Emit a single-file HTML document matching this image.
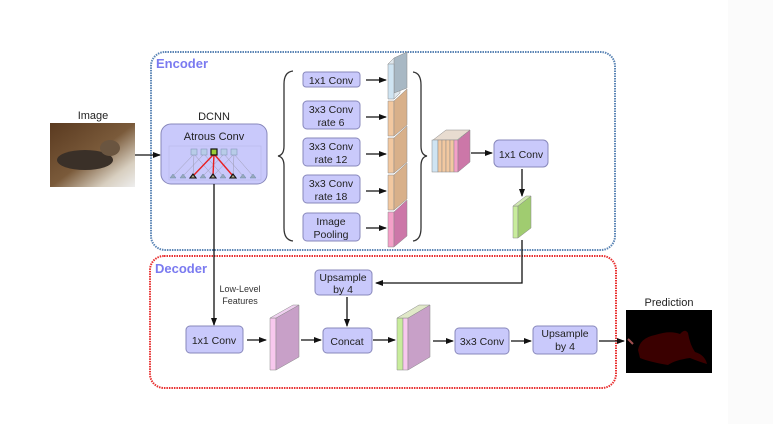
<!DOCTYPE html>
<html><head><meta charset="utf-8"><style>
html,body{margin:0;padding:0;background:#fff;}
svg{display:block;font-family:"Liberation Sans",sans-serif;}
</style></head><body>
<svg width="773" height="424" viewBox="0 0 773 424" xmlns="http://www.w3.org/2000/svg">
<defs>
<marker id="a" markerWidth="8" markerHeight="6" refX="7" refY="3" orient="auto" markerUnits="userSpaceOnUse"><path d="M0,0 L8,3 L0,6 z" fill="#111"/></marker>
<linearGradient id="cat" x1="0" y1="0" x2="1" y2="1"><stop offset="0" stop-color="#5a3a20"/><stop offset="0.5" stop-color="#7a5a3a"/><stop offset="0.8" stop-color="#d8cfc0"/><stop offset="1" stop-color="#eee"/></linearGradient>
</defs>
<rect x="728" y="0" width="45" height="424" fill="#fbfbfb"/>
<!-- Encoder / decoder frames -->
<rect x="151" y="52" width="464" height="198" rx="14" fill="none" stroke="#5b85b5" stroke-width="2" stroke-dasharray="1.5 1"/>
<text x="156" y="68" font-size="13" font-weight="bold" fill="#7a7af0">Encoder</text>
<rect x="150" y="256" width="466" height="132" rx="14" fill="none" stroke="#e83030" stroke-width="2" stroke-dasharray="1.5 1"/>
<text x="155" y="273" font-size="13" font-weight="bold" fill="#7a7af0">Decoder</text>
<!-- Image -->
<text x="93" y="119" font-size="11" text-anchor="middle" fill="#222">Image</text>
<rect x="50" y="123" width="85" height="64" fill="url(#cat)"/>
<ellipse cx="85" cy="160" rx="28" ry="10" fill="#3a3028"/>
<ellipse cx="110" cy="148" rx="10" ry="8" fill="#6a5540"/>
<line x1="135" y1="155" x2="160" y2="155" stroke="#111" stroke-width="1.3" marker-end="url(#a)"/>
<!-- DCNN -->
<text x="214" y="120" font-size="11" text-anchor="middle" fill="#222">DCNN</text>
<rect x="161" y="124" width="106" height="60" rx="10" fill="#c9c9fb" stroke="#8888bb"/>
<text x="214" y="140" font-size="11" text-anchor="middle" fill="#222">Atrous Conv</text>
<rect x="169" y="146" width="92" height="34" fill="none" stroke="#b8b8e8" stroke-width="0.6"/>
<g stroke="#9a9ab0" stroke-width="0.5">
<line x1="194" y1="154" x2="173" y2="176"/><line x1="194" y1="154" x2="193" y2="176"/><line x1="194" y1="154" x2="213" y2="176"/>
<line x1="204" y1="154" x2="183" y2="176"/><line x1="204" y1="154" x2="223" y2="176"/>
<line x1="224" y1="154" x2="203" y2="176"/><line x1="224" y1="154" x2="243" y2="176"/>
<line x1="234" y1="154" x2="213" y2="176"/><line x1="234" y1="154" x2="253" y2="176"/><line x1="234" y1="154" x2="233" y2="176"/>
</g>
<g stroke="#e82020" stroke-width="1.4"><line x1="214" y1="154" x2="193" y2="176"/><line x1="214" y1="154" x2="213" y2="176"/><line x1="214" y1="154" x2="233" y2="176"/></g>
<g fill="#b8cce8" stroke="#7a90b0" stroke-width="0.5"><rect x="191" y="149" width="6" height="6"/><rect x="201" y="149" width="6" height="6"/><rect x="221" y="149" width="6" height="6"/><rect x="231" y="149" width="6" height="6"/></g>
<rect x="211" y="149" width="6" height="6" fill="#9c3" stroke="#111" stroke-width="1.2"/>
<g fill="#9ab" stroke="#6a8aaa" stroke-width="0.5">
<path d="M173,174 l-3,4 h6z"/><path d="M183,174 l-3,4 h6z"/><path d="M203,174 l-3,4 h6z"/><path d="M223,174 l-3,4 h6z"/><path d="M243,174 l-3,4 h6z"/><path d="M253,174 l-3,4 h6z"/></g>
<g fill="#aa8" stroke="#111" stroke-width="1.1"><path d="M193,174 l-3,4 h6z"/><path d="M213,174 l-3,4 h6z"/><path d="M233,174 l-3,4 h6z"/></g>
<!-- Left brace -->
<path d="M293,71 Q284,72 284,84 L284,146 Q284,155 278,156 Q284,157 284,166 L284,228 Q284,240 293,241" fill="none" stroke="#333" stroke-width="1.3"/>
<!-- ASPP boxes -->
<g fill="#c9c9fb" stroke="#8888bb">
<rect x="303" y="72" width="57" height="15" rx="3"/>
<rect x="303" y="101" width="57" height="28" rx="4"/>
<rect x="303" y="138" width="57" height="28" rx="4"/>
<rect x="303" y="175" width="57" height="28" rx="4"/>
<rect x="303" y="213" width="57" height="28" rx="4"/>
</g>
<g font-size="10.5" text-anchor="middle" fill="#222">
<text x="331" y="84">1x1 Conv</text>
<text x="331" y="113">3x3 Conv</text><text x="331" y="126">rate 6</text>
<text x="331" y="150">3x3 Conv</text><text x="331" y="163">rate 12</text>
<text x="331" y="187">3x3 Conv</text><text x="331" y="200">rate 18</text>
<text x="331" y="225">Image</text><text x="331" y="238">Pooling</text>
</g>
<g stroke="#111" stroke-width="1.3" marker-end="url(#a)">
<line x1="366" y1="80" x2="386" y2="80"/><line x1="366" y1="117" x2="386" y2="117"/><line x1="366" y1="154" x2="386" y2="154"/><line x1="366" y1="191" x2="386" y2="191"/><line x1="366" y1="228" x2="386" y2="228"/>
</g>
<!-- slabs -->
<g stroke="#888" stroke-width="0.5">
<path d="M388,64 l6,-6 h6 v35 l-6,6z" fill="#e0e8ee"/><path d="M394,58 l13,-6 v36 l-13,5z" fill="#a8b8c4"/><path d="M388,64 h6 v35 h-6z" fill="#cfe4f2"/>
<path d="M388,101 h6 v35 h-6z" fill="#f2c8a0"/><path d="M394,101 l13,-12 v36 l-13,11z" fill="#d8b08a"/>
<path d="M388,138 h6 v35 h-6z" fill="#f2c8a0"/><path d="M394,138 l13,-12 v36 l-13,11z" fill="#d8b08a"/>
<path d="M388,175 h6 v35 h-6z" fill="#f2c8a0"/><path d="M394,175 l13,-12 v36 l-13,11z" fill="#d8b08a"/>
<path d="M388,212 h6 v35 h-6z" fill="#f4a0c8"/><path d="M394,212 l13,-12 v36 l-13,11z" fill="#cc77a8"/>
</g>
<!-- right brace -->
<path d="M413,72 Q421,73 421,85 L421,146 Q421,155 427,156 Q421,157 421,166 L421,228 Q421,240 413,241" fill="none" stroke="#333" stroke-width="1.3"/>
<!-- concat stack -->
<g stroke="#888" stroke-width="0.5">
<path d="M433,140 l13,-10 h24 l-13,10z" fill="#e8dcd0"/>
<rect x="432" y="140" width="6" height="32" fill="#cfe4f2"/>
<rect x="438" y="140" width="4" height="32" fill="#f2c8a0"/>
<rect x="442" y="140" width="4" height="32" fill="#f2c8a0"/>
<rect x="446" y="140" width="4" height="32" fill="#f2c8a0"/>
<rect x="450" y="140" width="4" height="32" fill="#f2c8a0"/>
<rect x="454" y="140" width="4" height="32" fill="#f4a0c8"/>
<path d="M458,140 l12,-10 v32 l-12,10z" fill="#cc77a8"/>
</g>
<line x1="471" y1="153" x2="492" y2="153" stroke="#111" stroke-width="1.3" marker-end="url(#a)"/>
<rect x="494" y="140" width="54" height="27" rx="5" fill="#c9c9fb" stroke="#8888bb"/>
<text x="521" y="158" font-size="10.5" text-anchor="middle" fill="#222">1x1 Conv</text>
<line x1="522" y1="169" x2="522" y2="196" stroke="#111" stroke-width="1.3" marker-end="url(#a)"/>
<g stroke="#888" stroke-width="0.5">
<path d="M513,206 h5 v32 h-5z" fill="#c8ec9c"/><path d="M518,206 l13,-10 v32 l-13,10z" fill="#a0cc70"/><path d="M513,206 l13,-10 h5 l-13,10z" fill="#d0e8b0"/>
</g>
<!-- upsample path -->
<polyline points="522,240 522,283 376,283" fill="none" stroke="#111" stroke-width="1.3" marker-end="url(#a)"/>
<rect x="315" y="270" width="57" height="25" rx="4" fill="#c9c9fb" stroke="#8888bb"/>
<text x="343" y="281" font-size="10.5" text-anchor="middle" fill="#222">Upsample</text>
<text x="343" y="293" font-size="10.5" text-anchor="middle" fill="#222">by 4</text>
<line x1="347" y1="297" x2="347" y2="326" stroke="#111" stroke-width="1.3" marker-end="url(#a)"/>
<!-- low level -->
<line x1="214" y1="184" x2="214" y2="325" stroke="#111" stroke-width="1.3" marker-end="url(#a)"/>
<text x="240" y="292" font-size="9" text-anchor="middle" fill="#333">Low-Level</text>
<text x="240" y="304" font-size="9" text-anchor="middle" fill="#333">Features</text>
<!-- decoder row -->
<g fill="#c9c9fb" stroke="#8888bb">
<rect x="186" y="326" width="57" height="27" rx="4"/>
<rect x="323" y="328" width="49" height="25" rx="4"/>
<rect x="455" y="328" width="54" height="26" rx="4"/>
<rect x="533" y="326" width="64" height="28" rx="4"/>
</g>
<g font-size="10.5" text-anchor="middle" fill="#222">
<text x="214" y="344">1x1 Conv</text>
<text x="347" y="345">Concat</text>
<text x="482" y="345">3x3 Conv</text>
<text x="565" y="337">Upsample</text><text x="565" y="350">by 4</text>
</g>
<g stroke="#888" stroke-width="0.5">
<path d="M270,318 h6 v52 h-6z" fill="#f8c8ee"/><path d="M276,318 l23,-13 v52 l-23,13z" fill="#c8a0c8"/><path d="M270,318 l23,-13 h6 l-23,13z" fill="#f0d0f0"/>
<path d="M397,318 h6 v52 h-6z" fill="#c8ec9c"/><path d="M403,318 h5 v52 h-5z" fill="#f8c8ee"/><path d="M408,318 l22,-13 v52 l-22,13z" fill="#c8a0c8"/><path d="M397,318 l22,-13 h11 l-22,13z" fill="#e0e8c8"/>
</g>
<g stroke="#111" stroke-width="1.3" marker-end="url(#a)">
<line x1="247" y1="340" x2="266" y2="340"/>
<line x1="301" y1="340" x2="321" y2="340"/>
<line x1="373" y1="340" x2="395" y2="340"/>
<line x1="433" y1="341" x2="453" y2="341"/>
<line x1="511" y1="341" x2="531" y2="341"/>
<line x1="599" y1="341" x2="624" y2="341"/>
</g>
<!-- prediction -->
<text x="669" y="306" font-size="11" text-anchor="middle" fill="#222">Prediction</text>
<rect x="626" y="310" width="86" height="63" fill="#000"/>
<path d="M638,350 Q640,338 655,335 Q670,330 680,334 Q685,328 688,333 Q690,345 695,352 Q705,355 707,364 Q700,362 690,358 Q675,360 668,365 Q650,362 640,358z" fill="#3a0000"/>
<path d="M628,339 l5,5" stroke="#a05050" stroke-width="2"/>
</svg>
</body></html>
